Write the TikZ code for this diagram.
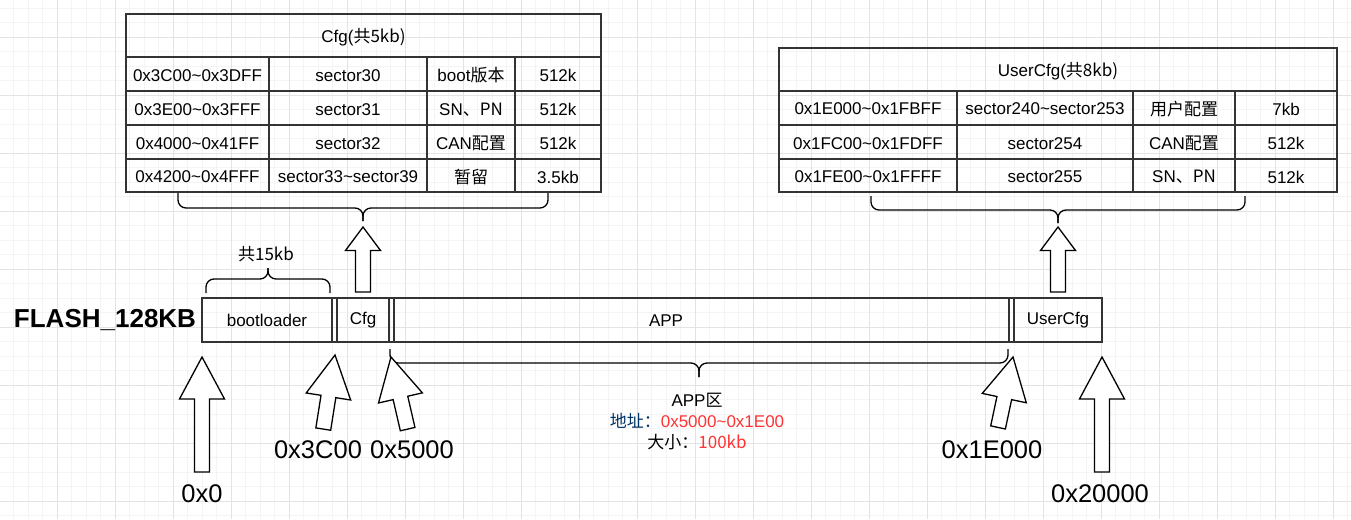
\documentclass[tikz,border=0pt]{standalone}
\usepackage{fontspec}
\setmainfont{Liberation Sans}
\newfontfamily\cjk{Noto Sans CJK SC}
\usetikzlibrary{calc}

\definecolor{gridlight}{HTML}{F4F4F4}
\definecolor{griddark}{HTML}{E3E3E3}
\definecolor{linegray}{HTML}{333333}
\definecolor{addrblue}{HTML}{003366}
\definecolor{valred}{HTML}{FF3333}

\tikzset{
  minorline/.style={draw=gridlight, line width=0.8pt},
  majorline/.style={draw=griddark, line width=0.9pt},
  tabline/.style={draw=linegray, line width=1.5pt},
  bigarrow/.style={draw=black, line width=1.3pt, fill=white, line join=miter},
  bracket/.style={draw=black, line width=1.3pt, rounded corners=8pt},
  cell/.style={font=\fontsize{17}{20}\selectfont, inner sep=1pt},
  addr/.style={font=\fontsize{25.5}{30}\selectfont, inner sep=1pt},
}

% tip, angle, length, head length, head half width
\newcommand{\blockarrow}[5]{%
  \draw[bigarrow, shift={#1}, rotate=#2] (0,0) -- (#5,#4) -- (7.5,#4) -- (7.5,#3)
    -- (-7.5,#3) -- (-7.5,#4) -- (-#5,#4) -- cycle;}
% x1, x2, y of ends, y of middle, y of tip
\newcommand{\curlybrace}[5]{%
  \draw[bracket] (#1,#3) -- (#1,#4) -- ({(#1+#2)/2},#4) -- ({(#1+#2)/2},#5);
  \draw[bracket] (#2,#3) -- (#2,#4) -- ({(#1+#2)/2},#4) -- ({(#1+#2)/2},#5);}

\begin{document}
\begin{tikzpicture}[x=1pt, y=-1pt]
\useasboundingbox (0,0) rectangle (1351,519);
\fill[white] (0,0) rectangle (1351,519);

% grid
\foreach \i in {-3,...,89}
  \draw[minorline] ({57.3+14.5*\i},0) -- ({57.3+14.5*\i},519);
\foreach \i in {-2,...,33}
  \draw[minorline] (0,{37.3+14.5*\i}) -- (1351,{37.3+14.5*\i});
\foreach \i in {-1,...,22}
  \draw[majorline] ({57.3+58*\i},0) -- ({57.3+58*\i},519);
\foreach \i in {0,...,8}
  \draw[majorline] (0,{37.3+58*\i}) -- (1351,{37.3+58*\i});

% Cfg table
\draw[tabline, line width=2pt] (126,14) rectangle (601,192);
\foreach \y in {57,91,125,159} \draw[tabline] (126,\y) -- (601,\y);
\foreach \x in {269,427,515} \draw[tabline] (\x,57) -- (\x,192);
\node[cell] (cfghead) at (363.5,37) {Cfg(\cjk{共}5kb)};
\foreach \r/\y/\a/\b/\c/\d in {
  1/75.5/0x3C00\textasciitilde0x3DFF/sector30/boot\cjk{版本}/512k,
  2/109.5/0x3E00\textasciitilde0x3FFF/sector31/SN\cjk{、}PN/512k,
  3/143.5/0x4000\textasciitilde0x41FF/sector32/CAN\cjk{配置}/512k,
  4/177/0x4200\textasciitilde0x4FFF/sector33\textasciitilde sector39/\cjk{暂留}/3.5kb} {
  \node[cell] (cfg\r a) at (197.5,\y) {\a};
  \node[cell] (cfg\r b) at (348,\y) {\b};
  \node[cell] (cfg\r c) at (471,\y) {\c};
  \node[cell] (cfg\r d) at (558,\y) {\d};
}

% UserCfg table
\draw[tabline, line width=2pt] (779,48) rectangle (1337,192);
\foreach \y in {91,125,159} \draw[tabline] (779,\y) -- (1337,\y);
\foreach \x in {957,1133,1235} \draw[tabline] (\x,91) -- (\x,192);
\node[cell] (ucfghead) at (1058,71) {UserCfg(\cjk{共}8kb)};
\foreach \r/\y/\a/\b/\c/\d in {
  1/109/0x1E000\textasciitilde0x1FBFF/sector240\textasciitilde sector253/\cjk{用户配置}/7kb,
  2/143.5/0x1FC00\textasciitilde0x1FDFF/sector254/CAN\cjk{配置}/512k,
  3/177/0x1FE00\textasciitilde0x1FFFF/sector255/SN\cjk{、}PN/512k} {
  \node[cell] (ucfg\r a) at (868,\y) {\a};
  \node[cell] (ucfg\r b) at (1045,\y) {\b};
  \node[cell] (ucfg\r c) at (1184,\y) {\c};
  \node[cell] (ucfg\r d) at (1286,\y) {\d};
}

% braces under the tables and above bootloader
\curlybrace{178}{548}{193}{208}{221}
\curlybrace{871}{1245}{196}{210}{223}
\curlybrace{206}{330}{293}{279}{268}
\node[cell] (bootsize) at (266,254) {\cjk{共}15kb};

% flash bar
\node[font=\bfseries\fontsize{26}{31}\selectfont, inner sep=1pt] (flash) at (105,320) {FLASH\_128KB};
\draw[tabline] (202,298) rectangle (1102,342);
\foreach \x in {332,337,389,394,1009,1014} \draw[tabline] (\x,298) -- (\x,342);
\node[cell] (boot) at (267,320.5) {bootloader};
\node[cell] (cfgpart) at (363,320.5) {Cfg};
\node[cell] (app) at (666,320.5) {APP};
\node[cell] (usercfgpart) at (1058,320.5) {UserCfg};

% APP area
\curlybrace{390}{1008}{349}{363}{377}
\node[cell, align=center, font=\fontsize{17}{21}\selectfont] (appinfo) at (697,422)
  {APP\cjk{区}\\
   {\color{addrblue}\cjk{地址：}}{\color{valred}0x5000\textasciitilde0x1E00}\\
   \cjk{大小：}{\color{valred}100kb}};

% arrows
\blockarrow{(363,227)}{0}{65}{23.5}{17.5}
\blockarrow{(1058,227)}{0}{65}{23.5}{17.5}
\blockarrow{(202,357)}{0}{115}{42}{22.5}
\blockarrow{(1102,357)}{0}{115}{42}{22.5}
\blockarrow{(335,355)}{-9}{75}{42}{22.5}
\blockarrow{(391,357)}{13}{74}{42}{22.5}
\blockarrow{(1013,357)}{-12}{72}{42}{22.5}

% addresses
\node[addr] (a0) at (202,494) {0x0};
\node[addr] (a3c00) at (318,450) {0x3C00};
\node[addr] (a5000) at (412,450) {0x5000};
\node[addr] (a1e000) at (992,450) {0x1E000};
\node[addr] (a20000) at (1100,494) {0x20000};
\end{tikzpicture}
\end{document}
